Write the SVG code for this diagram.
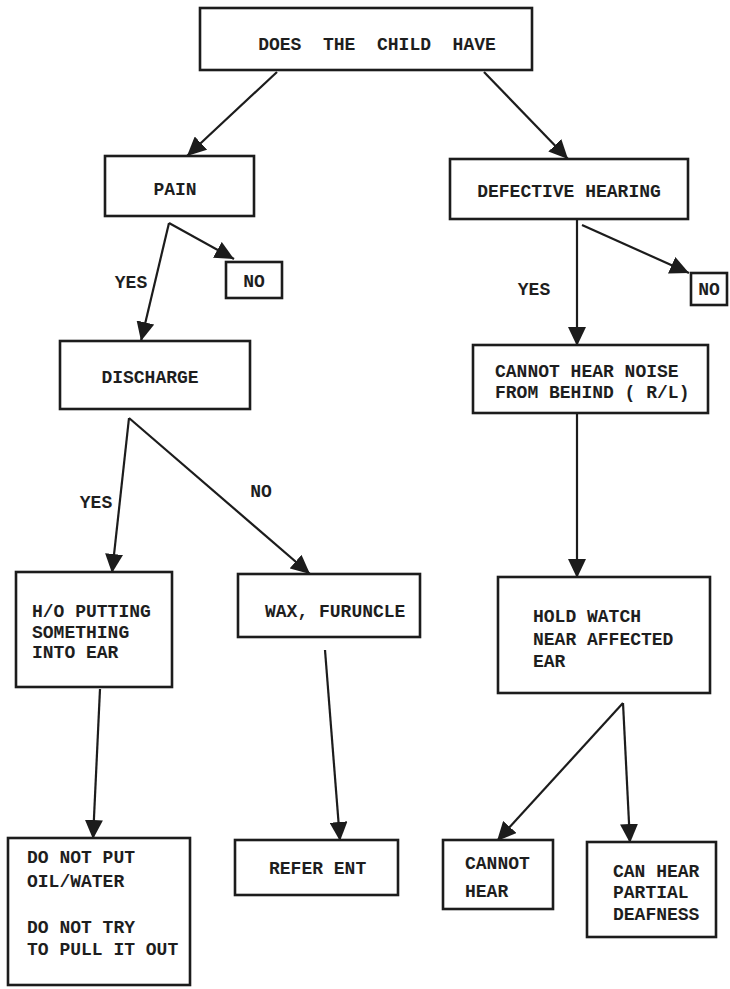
<svg xmlns="http://www.w3.org/2000/svg" width="730" height="989" viewBox="0 0 730 989">
  <style>
    .box { fill: #fff; stroke: #1c1c1c; stroke-width: 2.6; }
    .txt { font-family: "Liberation Mono", "DejaVu Sans Mono", monospace; font-size: 18px; font-weight: bold; fill: #1e1e1e; }
    .mid { text-anchor: middle; }
    .edge { fill: none; stroke: #1c1c1c; stroke-width: 2.2; }
  </style>
  <defs>
    <marker id="arrow" markerUnits="userSpaceOnUse" markerWidth="20" markerHeight="18" refX="19" refY="9" orient="auto">
      <path d="M0,0 L19,9 L0,18 Z" fill="#1c1c1c"/>
    </marker>
  </defs>
  <rect width="730" height="989" fill="#fff"/>

  <!-- connectors -->
  <g id="connectors">
    <line class="edge" x1="277" y1="72" x2="187" y2="156" marker-end="url(#arrow)"/>
    <line class="edge" x1="484" y1="72" x2="568" y2="159" marker-end="url(#arrow)"/>
    <line class="edge" x1="169" y1="223" x2="141" y2="341" marker-end="url(#arrow)"/>
    <line class="edge" x1="169" y1="223" x2="234" y2="259" marker-end="url(#arrow)"/>
    <line class="edge" x1="577" y1="220" x2="577" y2="346" marker-end="url(#arrow)"/>
    <line class="edge" x1="582" y1="225" x2="689" y2="273" marker-end="url(#arrow)"/>
    <line class="edge" x1="129" y1="418" x2="112" y2="573" marker-end="url(#arrow)"/>
    <line class="edge" x1="129" y1="418" x2="310" y2="574" marker-end="url(#arrow)"/>
    <line class="edge" x1="577" y1="413" x2="577" y2="578" marker-end="url(#arrow)"/>
    <line class="edge" x1="100" y1="689" x2="93" y2="839" marker-end="url(#arrow)"/>
    <line class="edge" x1="325" y1="650" x2="340" y2="841" marker-end="url(#arrow)"/>
    <line class="edge" x1="623" y1="703" x2="497" y2="841" marker-end="url(#arrow)"/>
    <line class="edge" x1="623" y1="703" x2="630" y2="843" marker-end="url(#arrow)"/>
    <text class="txt mid" x="131" y="288">YES</text>
    <text class="txt mid" x="534" y="295">YES</text>
    <text class="txt mid" x="96" y="508">YES</text>
    <text class="txt mid" x="261" y="497">NO</text>
  </g>

  <!-- nodes -->
  <g id="n-start">
    <rect class="box" x="200" y="8" width="332" height="62"/>
    <text class="txt mid" x="377" y="50" xml:space="preserve">DOES  THE  CHILD  HAVE</text>
  </g>
  <g id="n-pain">
    <rect class="box" x="105" y="156" width="149" height="60"/>
    <text class="txt mid" x="175" y="195">PAIN</text>
  </g>
  <g id="n-pain-no">
    <rect class="box" x="226" y="262" width="56" height="36"/>
    <text class="txt mid" x="254" y="287">NO</text>
  </g>
  <g id="n-hearing">
    <rect class="box" x="450" y="159" width="238" height="60"/>
    <text class="txt mid" x="569" y="197">DEFECTIVE HEARING</text>
  </g>
  <g id="n-hearing-no">
    <rect class="box" x="691" y="273" width="36" height="32"/>
    <text class="txt mid" x="709" y="295">NO</text>
  </g>
  <g id="n-discharge">
    <rect class="box" x="60" y="341" width="190" height="68"/>
    <text class="txt mid" x="150" y="383">DISCHARGE</text>
  </g>
  <g id="n-noise">
    <rect class="box" x="473" y="345" width="235" height="68"/>
    <text class="txt" x="495" y="377">CANNOT HEAR NOISE</text>
    <text class="txt" x="495" y="398">FROM BEHIND ( R/L)</text>
  </g>
  <g id="n-foreign-body">
    <rect class="box" x="16" y="572" width="156" height="115"/>
    <text class="txt" x="32" y="617">H/O PUTTING</text>
    <text class="txt" x="32" y="638">SOMETHING</text>
    <text class="txt" x="32" y="658">INTO EAR</text>
  </g>
  <g id="n-wax">
    <rect class="box" x="238" y="574" width="182" height="63"/>
    <text class="txt" x="265" y="617">WAX, FURUNCLE</text>
  </g>
  <g id="n-watch">
    <rect class="box" x="498" y="577" width="212" height="116"/>
    <text class="txt" x="533" y="622">HOLD WATCH</text>
    <text class="txt" x="533" y="645">NEAR AFFECTED</text>
    <text class="txt" x="533" y="667">EAR</text>
  </g>
  <g id="n-advice">
    <rect class="box" x="8" y="838" width="182" height="147"/>
    <text class="txt" x="27" y="863">DO NOT PUT</text>
    <text class="txt" x="27" y="887">OIL/WATER</text>
    <text class="txt" x="27" y="933">DO NOT TRY</text>
    <text class="txt" x="27" y="955">TO PULL IT OUT</text>
  </g>
  <g id="n-refer">
    <rect class="box" x="235" y="840" width="163" height="55"/>
    <text class="txt" x="269" y="874">REFER ENT</text>
  </g>
  <g id="n-cannot-hear">
    <rect class="box" x="443" y="840" width="110" height="69"/>
    <text class="txt" x="465" y="869">CANNOT</text>
    <text class="txt" x="465" y="897">HEAR</text>
  </g>
  <g id="n-can-hear">
    <rect class="box" x="587" y="842" width="129" height="95"/>
    <text class="txt" x="613" y="877">CAN HEAR</text>
    <text class="txt" x="613" y="898">PARTIAL</text>
    <text class="txt" x="613" y="920">DEAFNESS</text>
  </g>
</svg>
